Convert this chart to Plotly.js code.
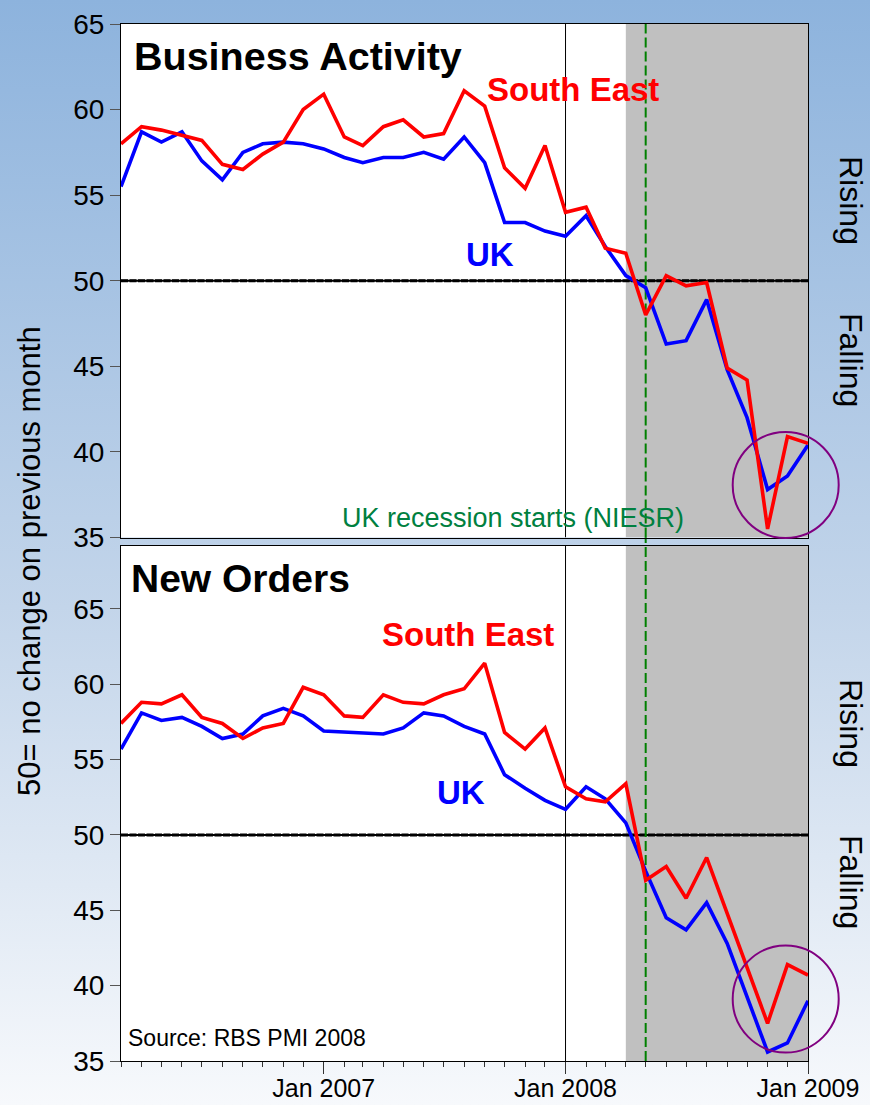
<!DOCTYPE html>
<html>
<head>
<meta charset="utf-8">
<script src="https://cdn.plot.ly/plotly-3.0.1.min.js"></script>
<style>
  html, body { margin: 0; padding: 0; }
  body { width: 870px; height: 1105px; background: linear-gradient(to bottom, #8db3dd 0%, #c3d5ea 55%, #f7f9fc 100%); }
  #chart { width: 870px; height: 1105px; }
</style>
</head>
<body>
<div id="chart"></div>
<script>
// ---- data ----
const months = [
  '2006-03-01','2006-04-01','2006-05-01','2006-06-01','2006-07-01','2006-08-01','2006-09-01','2006-10-01','2006-11-01','2006-12-01',
  '2007-01-01','2007-02-01','2007-03-01','2007-04-01','2007-05-01','2007-06-01','2007-07-01','2007-08-01','2007-09-01','2007-10-01','2007-11-01','2007-12-01',
  '2008-01-01','2008-02-01','2008-03-01','2008-04-01','2008-05-01','2008-06-01','2008-07-01','2008-08-01','2008-09-01','2008-10-01','2008-11-01','2008-12-01',
  '2009-01-01'
];
const ukActivity = [55.5,58.7,58.1,58.7,57.0,55.9,57.5,58.0,58.1,58.0,57.7,57.2,56.9,57.2,57.2,57.5,57.1,58.4,56.9,53.4,53.4,52.9,52.6,53.8,52.0,50.3,49.6,46.3,46.5,48.9,44.8,42.0,37.8,38.6,40.4];
const seActivity = [58.0,59.0,58.8,58.5,58.2,56.8,56.5,57.4,58.1,60.0,60.9,58.4,57.9,59.0,59.4,58.4,58.6,61.1,60.2,56.6,55.4,57.9,54.0,54.3,51.9,51.6,48.0,50.3,49.7,49.9,44.9,44.2,35.5,40.9,40.5];
const ukOrders = [55.7,58.1,57.6,57.8,57.2,56.4,56.7,57.9,58.4,57.9,56.9,56.85,56.75,56.7,57.1,58.1,57.9,57.2,56.7,54.0,53.1,52.3,51.7,53.2,52.4,50.8,47.6,44.5,43.7,45.5,42.8,39.3,35.6,36.2,39.0];
const seOrders = [57.4,58.8,58.7,59.3,57.8,57.4,56.4,57.1,57.4,59.8,59.3,57.9,57.8,59.3,58.8,58.7,59.3,59.7,61.4,56.8,55.7,57.1,53.2,52.4,52.2,53.4,47.0,47.9,45.8,48.5,44.8,41.2,37.5,41.4,40.7];
const xRange = ['2006-03-01','2009-01-01'];
const recessionShadeStart = '2008-04-01';
const recessionStart = '2008-05-01';
const yearLine = '2008-01-01';
const noChange = 50;
const yTicks = [35,40,45,50,55,60,65];

// ---- layout helpers ----
const L = 121, R = 62, T = 24, B = 44, W = 870, H = 1105;
const PW = W - L - R, PH = H - T - B;
const px = x => (x - L) / PW;
const py = y => (H - B - y) / PH;
const FONT = 'Arial, "Liberation Sans", sans-serif';
const RED = '#ff0000', BLUE = '#0000ff', GREEN = '#008040';

const topDomain = [py(537.5), 1];
const botDomain = [0, py(546)];
const botTop = 35 + (1061 - 546) / 15.07;

function line(x, y, color, xa, ya) {
  return { x: x, y: y, type: 'scatter', mode: 'lines', xaxis: xa, yaxis: ya,
           line: { color: color, width: 3.6 }, hoverinfo: 'skip', showlegend: false };
}
const data = [
  line(months, ukActivity, BLUE, 'x', 'y'),
  line(months, seActivity, RED, 'x', 'y'),
  line(months, ukOrders, BLUE, 'x2', 'y2'),
  line(months, seOrders, RED, 'x2', 'y2')
];

function panelShapes(xr, yr, ytop) {
  return [
    { type: 'rect', xref: xr, yref: yr, x0: recessionShadeStart, x1: xRange[1], y0: 35, y1: ytop,
      fillcolor: '#c0c0c0', line: { width: 0 }, layer: 'below' },
    { type: 'line', xref: xr, yref: yr, x0: yearLine, x1: yearLine, y0: 35, y1: ytop,
      line: { color: '#000', width: 1 }, layer: 'below' },
    { type: 'line', xref: xr, yref: yr, x0: xRange[0], x1: xRange[1], y0: noChange, y1: noChange,
      line: { color: '#000', width: 2 }, layer: 'below' },
    { type: 'line', xref: xr, yref: yr, x0: xRange[0], x1: xRange[1], y0: noChange, y1: noChange,
      line: { color: '#000', width: 3, dash: '7px,1.5px' }, layer: 'below' },
    { type: 'line', xref: xr, yref: yr, x0: recessionStart, x1: recessionStart, y0: 35, y1: ytop,
      line: { color: '#008000', width: 2, dash: '10px,4px' }, layer: 'below' }
  ];
}
const shapes = [
  { type: 'line', xref: 'x', yref: 'paper', x0: recessionStart, x1: recessionStart, y0: 0, y1: 1,
    line: { color: '#008000', width: 2, dash: '10px,4px' }, layer: 'below' },
  ...panelShapes('x', 'y', 65),
  ...panelShapes('x2', 'y2', botTop),
  { type: 'circle', xref: 'paper', yref: 'paper', x0: px(732.7), x1: px(838.7), y0: py(538), y1: py(432),
    line: { color: '#800080', width: 2 }, layer: 'above' },
  { type: 'circle', xref: 'paper', yref: 'paper', x0: px(732.7), x1: px(838.7), y0: py(1052.5), y1: py(945.5),
    line: { color: '#800080', width: 2 }, layer: 'above' }
];

function ann(text, x, y, size, color, opts) {
  return Object.assign({ text: text, xref: 'paper', yref: 'paper', x: px(x), y: py(y),
    xanchor: 'center', yanchor: 'middle', showarrow: false,
    font: { family: FONT, size: size, color: color } }, opts || {});
}
const annotations = [
  ann('<b>Business Activity</b>', 132, 56, 39.5, '#000', { xanchor: 'left' }),
  ann('<b>South East</b>', 573, 90, 33, RED),
  ann('<b>UK</b>', 490, 254, 33, BLUE),
  ann('UK recession starts (NIESR)', 513, 518, 27, GREEN),
  ann('<b>New Orders</b>', 129, 578, 39, '#000', { xanchor: 'left' }),
  ann('<b>South East</b>', 468, 634, 33, RED),
  ann('<b>UK</b>', 461, 792, 33, BLUE),
  ann('Source: RBS PMI 2008', 126, 1038, 23, '#000', { xanchor: 'left' }),
  ann('Rising', 851, 200, 32, '#000', { textangle: 90 }),
  ann('Falling', 851, 360, 32, '#000', { textangle: 90 }),
  ann('Rising', 851, 723, 32, '#000', { textangle: 90 }),
  ann('Falling', 851, 882, 32, '#000', { textangle: 90 }),
  ann('50= no change on previous month', 29, 561, 31, '#000', { textangle: -90 })
];

const yBase = {
  tickmode: 'array', tickvals: yTicks, ticktext: yTicks.map(String),
  ticks: 'outside', ticklen: 10, tickwidth: 1, tickcolor: '#555',
  showgrid: false, zeroline: false, showline: true, mirror: true, linecolor: '#000', linewidth: 1,
  tickfont: { family: FONT, size: 28, color: '#000' }, fixedrange: true
};
const layout = {
  width: W, height: H,
  margin: { l: L, r: R, t: T, b: B, pad: 0 },
  paper_bgcolor: 'rgba(0,0,0,0)', plot_bgcolor: '#ffffff',
  showlegend: false,
  xaxis: { type: 'date', range: xRange, domain: [0, 1], anchor: 'y',
    showticklabels: false, ticks: '', showgrid: false, zeroline: false,
    showline: true, mirror: true, linecolor: '#000', linewidth: 1, fixedrange: true },
  yaxis: Object.assign({}, yBase, { domain: topDomain, range: [35, 65], anchor: 'x' }),
  xaxis2: { type: 'date', range: xRange, domain: [0, 1], anchor: 'y2', matches: 'x',
    tick0: '2007-01-01', dtick: 'M12', tickformat: '%b %Y',
    ticks: 'outside', ticklen: 12, tickwidth: 1, tickcolor: '#333',
    ticklabelstandoff: -7,
    minor: { dtick: 'M1', ticks: 'outside', ticklen: 5, tickwidth: 1, tickcolor: '#333' },
    tickfont: { family: FONT, size: 25, color: '#000' },
    showgrid: false, zeroline: false, showline: true, mirror: true, linecolor: '#000', linewidth: 1, fixedrange: true },
  yaxis2: Object.assign({}, yBase, { domain: botDomain, range: [35, botTop], anchor: 'x2' }),
  shapes: shapes,
  annotations: annotations
};
Plotly.newPlot('chart', data, layout, { staticPlot: true, displayModeBar: false });
</script>
</body>
</html>
